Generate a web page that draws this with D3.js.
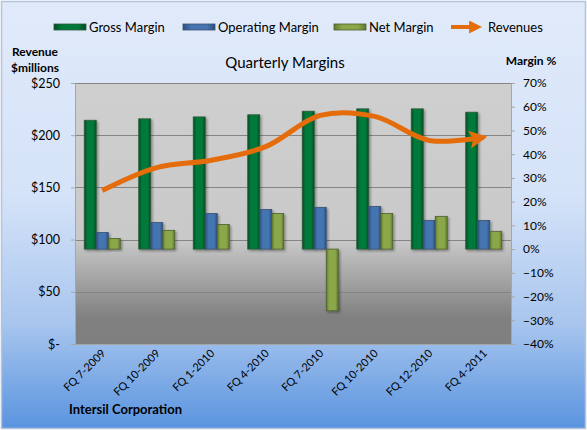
<!DOCTYPE html>
<html>
<head>
<meta charset="utf-8">
<script src="https://cdn.jsdelivr.net/npm/d3@7"></script>
<style>
  html, body { margin: 0; padding: 0; background: #ffffff; }
  svg text { font-family: Lato, "Liberation Sans", sans-serif; fill: #000; }
</style>
</head>
<body>
<svg id="chart" width="587" height="430"></svg>
<script>
const categories = ["FQ 7-2009", "FQ 10-2009", "FQ 1-2010", "FQ 4-2010", "FQ 7-2010", "FQ 10-2010", "FQ 12-2010", "FQ 4-2011"];
const grossMargin = [0.543, 0.549, 0.557, 0.566, 0.581, 0.591, 0.591, 0.577];
const operatingMargin = [0.070, 0.112, 0.150, 0.167, 0.176, 0.180, 0.121, 0.121];
const netMargin = [0.045, 0.079, 0.104, 0.150, -0.260, 0.150, 0.138, 0.075];
const revenues = [147, 169, 176, 189, 219, 218, 195, 198];
const leftTicks = [0, 50, 100, 150, 200, 250];
const rightTicks = [-0.4, -0.3, -0.2, -0.1, 0, 0.1, 0.2, 0.3, 0.4, 0.5, 0.6, 0.7];
const seriesNames = ["Gross Margin", "Operating Margin", "Net Margin"];
const seriesData = [grossMargin, operatingMargin, netMargin];

const W = 587, H = 430;
const plot = { left: 75, right: 511, top: 83, bottom: 344 };
const svg = d3.select("#chart");
const defs = svg.append("defs");

// Backgrounds
const bg = defs.append("linearGradient").attr("id", "bgGrad").attr("x1", 0).attr("y1", 0).attr("x2", 0).attr("y2", 1);
[[0, "#e0eafa"], [0.45, "#d5e3f8"], [0.75, "#a9c6ee"], [1, "#5a94df"]].forEach(([o, c]) => bg.append("stop").attr("offset", o).attr("stop-color", c));
const pg = defs.append("linearGradient").attr("id", "plotGrad").attr("x1", 0).attr("y1", 0).attr("x2", 0).attr("y2", 1);
[[0, "#cfcfcf"], [0.6, "#c9c9c9"], [0.9, "#808080"], [1, "#7f7f7f"]].forEach(([o, c]) => pg.append("stop").attr("offset", o).attr("stop-color", c));

const barColors = [
  { edge: "#004a20", mid: "#00793a", stroke: "#2f5a3c" },
  { edge: "#2a4f80", mid: "#4574b0", stroke: "#3a5170" },
  { edge: "#5e7a2a", mid: "#8aa84a", stroke: "#4e5e30" }
];
barColors.forEach((c, i) => {
  const g = defs.append("linearGradient").attr("id", "barGrad" + i).attr("x1", 0).attr("y1", 0).attr("x2", 1).attr("y2", 0);
  [[0, c.edge], [0.25, c.mid], [0.75, c.mid], [1, c.edge]].forEach(([o, col]) => g.append("stop").attr("offset", o).attr("stop-color", col));
});
const shadow = defs.append("filter").attr("id", "shadow").attr("x", "-30%").attr("y", "-10%").attr("width", "160%").attr("height", "130%");
shadow.append("feDropShadow").attr("dx", 1.5).attr("dy", 1.5).attr("stdDeviation", 1).attr("flood-color", "#000").attr("flood-opacity", 0.35);

svg.append("rect").attr("x", 1.5).attr("y", 1.5).attr("width", W - 3).attr("height", H - 3)
  .attr("fill", "url(#bgGrad)").attr("stroke", "#b4c4da").attr("stroke-width", 1.5);

svg.append("rect").attr("x", plot.left).attr("y", plot.top)
  .attr("width", plot.right - plot.left).attr("height", plot.bottom - plot.top)
  .attr("fill", "url(#plotGrad)");

// Scales
const x = d3.scaleBand().domain(categories).range([plot.left, plot.right]).padding(0);
const groupW = 36;
const xs = d3.scaleBand().domain(seriesNames).range([0, groupW]);
const yL = d3.scaleLinear().domain([0, 250]).range([plot.bottom, plot.top]);
const yR = d3.scaleLinear().domain([-0.4, 0.7]).range([plot.bottom, plot.top]);

// Gridlines
svg.append("g").selectAll("line").data(leftTicks.filter(t => t > 0)).join("line")
  .attr("x1", plot.left).attr("x2", plot.right)
  .attr("y1", d => Math.round(yL(d)) + 0.5).attr("y2", d => Math.round(yL(d)) + 0.5)
  .attr("stroke", "#858585").attr("stroke-width", 1);

// Left axis
const fmtL = d => d === 0 ? "$-" : "$" + d;
const gL = svg.append("g").attr("transform", `translate(${plot.left},0)`)
  .call(d3.axisLeft(yL).tickValues(leftTicks).tickFormat(fmtL).tickSize(4).tickPadding(11));
gL.select(".domain").attr("stroke", "#a6a6a6");
gL.selectAll(".tick line").attr("stroke", "#a6a6a6");
gL.selectAll("text").style("font-size", "12.5px").attr("fill", "#000");

// Right axis
const gR = svg.append("g").attr("transform", `translate(${plot.right},0)`)
  .call(d3.axisRight(yR).tickValues(rightTicks).tickFormat(d3.format(".0%")).tickSize(4).tickPadding(8));
gR.select(".domain").attr("stroke", "#a6a6a6");
gR.selectAll(".tick line").attr("stroke", "#a6a6a6");
gR.selectAll("text").style("font-size", "12px").attr("fill", "#000");

// Bottom axis
const gB = svg.append("g").attr("transform", `translate(0,${plot.bottom})`)
  .call(d3.axisBottom(x).tickSize(0).tickPadding(0));
gB.select(".domain").attr("stroke", "#a6a6a6");
gB.selectAll(".tick text")
  .style("font-size", "11px")
  .attr("text-anchor", "end")
  .attr("dy", 0)
  .attr("transform", "translate(4,10) rotate(-45)");

// Bars
const barG = svg.append("g");
seriesData.forEach((vals, si) => {
  barG.append("g").selectAll("rect").data(vals).join("rect")
    .attr("x", (d, i) => x(categories[i]) + (x.bandwidth() - groupW) / 2 + xs(seriesNames[si]))
    .attr("width", xs.bandwidth())
    .attr("y", d => yR(Math.max(0, d)))
    .attr("height", d => Math.abs(yR(d) - yR(0)))
    .attr("fill", `url(#barGrad${si})`)
    .attr("stroke", barColors[si].stroke)
    .attr("stroke-width", 0.8)
    .attr("filter", "url(#shadow)");
});

// Revenue line
const orange = "#e46c0a";
defs.append("marker").attr("id", "arrow").attr("markerUnits", "userSpaceOnUse")
  .attr("viewBox", "0 0 10 10").attr("refX", 8).attr("refY", 5)
  .attr("markerWidth", 18).attr("markerHeight", 18).attr("orient", "auto")
  .append("path").attr("d", "M0,0 L10,5 L0,10 L2,5 Z").attr("fill", orange);
defs.append("marker").attr("id", "arrowSmall").attr("markerUnits", "userSpaceOnUse")
  .attr("viewBox", "0 0 10 10").attr("refX", 3).attr("refY", 5)
  .attr("markerWidth", 13).attr("markerHeight", 13).attr("orient", "auto")
  .append("path").attr("d", "M0,0 L10,5 L0,10 Z").attr("fill", orange);

const line = d3.line()
  .x((d, i) => x(categories[i]) + x.bandwidth() / 2)
  .y(d => yL(d))
  .curve(d3.curveCatmullRom.alpha(0.5));
svg.append("path").datum(revenues).attr("d", line)
  .attr("fill", "none").attr("stroke", orange).attr("stroke-width", 5)
  .attr("stroke-linecap", "butt").attr("marker-end", "url(#arrow)");

// Titles
svg.append("text").attr("x", 285).attr("y", 68).attr("text-anchor", "middle")
  .style("font-size", "15px").text("Quarterly Margins");
svg.append("text").attr("x", 35).attr("y", 56).attr("text-anchor", "middle")
  .style("font-size", "12px").style("font-weight", "bold").text("Revenue");
svg.append("text").attr("x", 35).attr("y", 72).attr("text-anchor", "middle")
  .style("font-size", "12px").style("font-weight", "bold").text("$millions");
svg.append("text").attr("x", 531).attr("y", 65).attr("text-anchor", "middle")
  .style("font-size", "12px").style("font-weight", "bold").text("Margin %");
svg.append("text").attr("x", 69).attr("y", 414)
  .style("font-size", "13px").style("font-weight", "bold").text("Intersil Corporation");

// Legend
const legend = svg.append("g");
const legendItems = [
  { name: "Gross Margin", x: 54, type: 0 },
  { name: "Operating Margin", x: 183, type: 1 },
  { name: "Net Margin", x: 334, type: 2 },
  { name: "Revenues", x: 451, type: "line" }
];
const ly = 27;
legendItems.forEach(it => {
  if (it.type === "line") {
    legend.append("line").attr("x1", it.x).attr("x2", it.x + 22).attr("y1", ly).attr("y2", ly)
      .attr("stroke", orange).attr("stroke-width", 4).attr("marker-end", "url(#arrowSmall)");
    legend.append("text").attr("x", it.x + 37).attr("y", ly + 4.5).style("font-size", "13px").text(it.name);
  } else {
    legend.append("rect").attr("x", it.x).attr("y", ly - 3).attr("width", 32).attr("height", 6)
      .attr("fill", `url(#barGrad${it.type})`).attr("stroke", barColors[it.type].stroke).attr("stroke-width", 0.8);
    legend.append("text").attr("x", it.x + 35).attr("y", ly + 4.5).style("font-size", "13px").text(it.name);
  }
});
</script>
</body>
</html>
